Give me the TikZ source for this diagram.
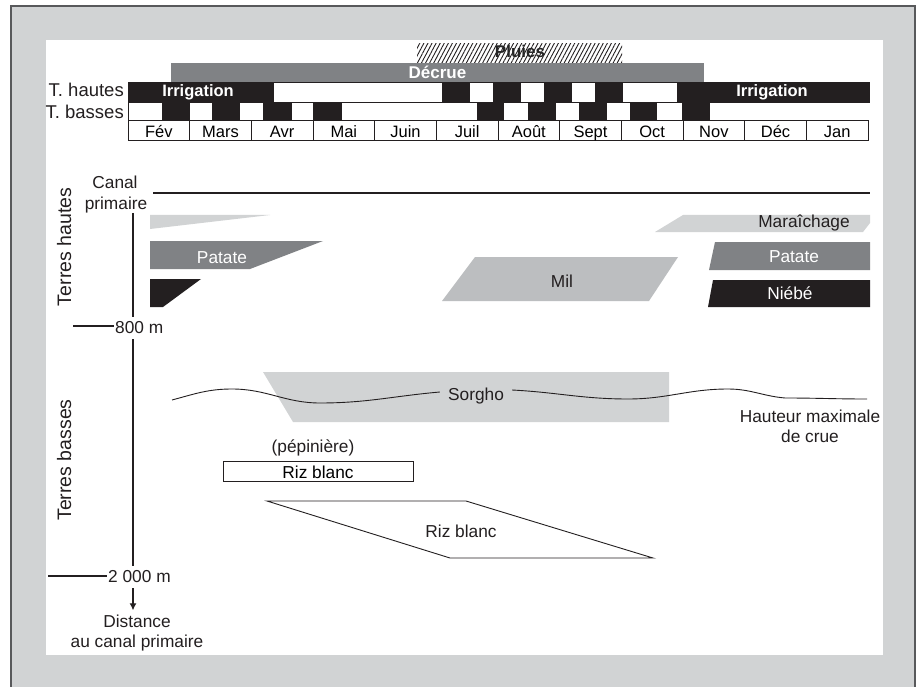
\documentclass[tikz,border=0pt]{standalone}
\usepackage{fontspec}
\setmainfont{Liberation Sans}
\usetikzlibrary{patterns.meta,arrows.meta}
\definecolor{framegray}{HTML}{D1D3D4}
\definecolor{frameline}{HTML}{58595B}
\definecolor{midgray}{HTML}{808285}
\definecolor{milgray}{HTML}{BCBEC0}
\definecolor{cropblack}{HTML}{231F20}
\tikzset{
  lbl/.style={font=\fontsize{17.3}{21}\selectfont, text=cropblack, inner sep=0pt},
  whitelbl/.style={lbl, text=white},
  boldlbl/.style={font=\fontsize{16.5}{20}\selectfont\bfseries, inner sep=0pt},
  sidelbl/.style={font=\fontsize{19.5}{22}\selectfont, text=cropblack, inner sep=0pt, rotate=90, anchor=base},
  monthbox/.style={draw=cropblack, line width=0.9pt, minimum width=61.67pt, minimum height=20pt,
    inner sep=0pt, text height=16pt, text depth=0pt, font=\fontsize{16.5}{20}\selectfont},
  rowbox/.style={draw=cropblack, line width=0.9pt, fill=white},
  distlbl/.style={lbl, inner xsep=1pt, inner ysep=5pt, anchor=west},
}
\begin{document}
\begin{tikzpicture}[x=1pt,y=-1pt]
\useasboundingbox (0,0) rectangle (918,687);
% cadre
\fill[framegray] (11,6) rectangle (915,687);
\draw[frameline, line width=2pt] (11,687) -- (11,6) -- (915,6) -- (915,687);
\fill[white] (46,40) rectangle (883,655);

% calendrier
\fill[pattern={Lines[angle=62,distance=3.6pt,line width=0.9pt]}, pattern color=cropblack] (417,44) rectangle (622,63);
\node[boldlbl, font=\fontsize{17}{20}\selectfont\bfseries, text=black!85, anchor=base] (pluies) at (520,58) {Pluies};
\fill[midgray] (171,63) rectangle (704,82);
\node[boldlbl, font=\fontsize{17}{20}\selectfont\bfseries, text=white, anchor=base] (decrue) at (437.5,79) {Décrue};
\draw[rowbox] (128,82) rectangle (869,102);
\draw[rowbox] (128,102) rectangle (709,120);
\foreach \a/\b in {128/274,442/470,493/521,544/572,595/623,677/869}
  \fill[cropblack] (\a,82) rectangle (\b,102);
\foreach \a/\b in {162/190,212/240,263/292,313/342,477/504,528/556,579/607,630/657,682/709}
  \fill[cropblack] (\a,102) rectangle (\b,120);
\node[boldlbl, text=white, anchor=base] (irrig1) at (198,97) {Irrigation};
\node[boldlbl, text=white, anchor=base] (irrig2) at (772,97) {Irrigation};
\node[lbl, font=\fontsize{18.5}{20}\selectfont, anchor=base east] (thautes) at (124,97) {T. hautes};
\node[lbl, font=\fontsize{18.5}{20}\selectfont, anchor=base east] (tbasses) at (124,119) {T. basses};
\foreach \m [count=\i] in {Fév,Mars,Avr,Mai,Juin,Juil,Août,Sept,Oct,Nov,Déc,Jan}
  \node[monthbox] (mois\i) at ({128+61.67*(\i-0.5)},130) {\m};

% canal et axe des distances
\node[lbl, anchor=base] (canal1) at (115,189) {Canal};
\node[lbl, anchor=base] (canal2) at (116,210) {primaire};
\coordinate (canalL) at (153,193);
\coordinate (canalR) at (870,193);
\draw[cropblack, line width=2.2pt] (canalL) -- (canalR);
\node[sidelbl] (thaut) at (71,247) {Terres hautes};
\node[sidelbl] (tbas) at (71,460) {Terres basses};
\coordinate (axtop) at (133,213);
\node[distlbl] (m800) at (114,328) {800 m};
\node[distlbl] (m2000) at (107,577) {2 000 m};
\coordinate (t800) at (73,326);
\coordinate (t2000) at (48,576);
\node[lbl, anchor=base, inner ysep=4pt] (dist1) at (137,627) {Distance};
\node[lbl, anchor=base] (dist2) at (137,647) {au canal primaire};
\draw[cropblack, line width=1.1pt] (axtop) -- (axtop |- m800.north);
\draw[cropblack, line width=1.1pt] (axtop |- m800.south) -- (axtop |- m2000.north);
\draw[cropblack, line width=1.1pt, -{Latex[length=7pt,width=7pt]}] (axtop |- m2000.south) -- (axtop |- dist1.north);
\draw[cropblack, line width=1.1pt] (t800) -- (t800 -| m800.west);
\draw[cropblack, line width=1.1pt] (t2000) -- (t2000 -| m2000.west);

% terres hautes
\fill[framegray] (150,215) -- (270,215) -- (150,229) -- cycle;
\fill[midgray] (150,241) -- (323,241) -- (250,269) -- (150,269) -- cycle;
\fill[cropblack] (150,279) -- (201,279) -- (163,307) -- (150,307) -- cycle;
\node[whitelbl, anchor=base] (patate1) at (222,263) {Patate};
\fill[milgray] (475,257) -- (678,257) -- (649,301) -- (442,301) -- cycle;
\node[lbl, anchor=base] (mil) at (562,287) {Mil};
\fill[framegray] (683,215) -- (870,215) -- (870,223) -- (863,232) -- (655,232) -- cycle;
\node[lbl, anchor=base] (marai) at (804,228) {Maraîchage};
\fill[midgray] (715,242) -- (870,242) -- (870,270) -- (709,270) -- cycle;
\node[whitelbl, anchor=base] (patate2) at (794,262) {Patate};
\fill[cropblack] (713,280) -- (870,280) -- (870,307) -- (708,307) -- cycle;
\node[whitelbl, anchor=base] (niebe) at (790,299) {Niébé};

% terres basses
\fill[framegray] (263,372) -- (669,372) -- (669,422) -- (293,422) -- cycle;
\node[lbl, anchor=base, inner xsep=8pt] (sorgho) at (476,400) {Sorgho};
\coordinate (crueA) at (172,400);
\coordinate (crueB) at (867,399);
\draw[cropblack, line width=0.9pt] (crueA) to[out=15,in=180] (232,389) to[out=0,in=180] (320,403)
  to[out=0,in=185] (sorgho.west |- 0,392);
\draw[cropblack, line width=0.9pt] (sorgho.east |- 0,390) to[out=-3,in=180] (628,399)
  to[out=0,in=180] (728,389) to[out=0,in=175] (785,398) to[out=0,in=180] (crueB);
\node[lbl, anchor=base] (hauteur) at (810,422) {Hauteur maximale};
\node[lbl, anchor=base] (crue) at (810,442) {de crue};
\node[lbl, anchor=base] (pepi) at (313,452) {(pépinière)};
\node[draw=cropblack, line width=0.9pt, minimum width=190pt, minimum height=20pt, inner sep=0pt,
  text height=15pt, text depth=0pt, font=\fontsize{17.3}{21}\selectfont] (rizbox) at (318,471) {Riz blanc};
\draw[cropblack, line width=0.9pt] (267,501) -- (466,501) -- (653,558) -- (450,558) -- cycle;
\node[lbl, anchor=base] (riz) at (461,537) {Riz blanc};
\end{tikzpicture}
\end{document}
